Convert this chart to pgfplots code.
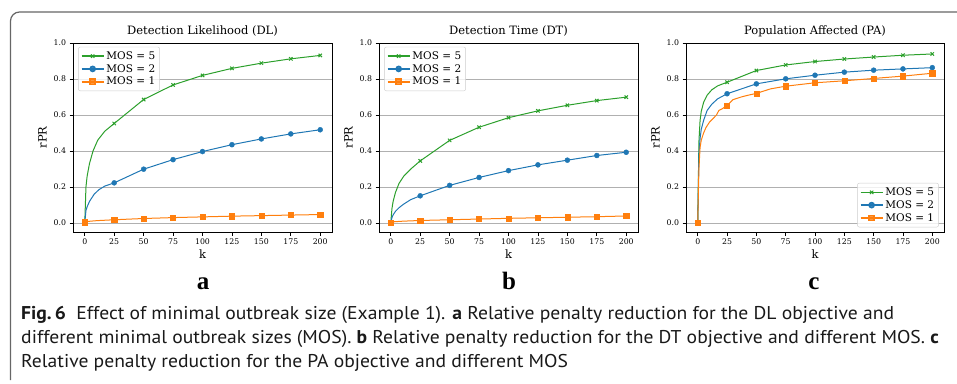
\documentclass[border=0pt]{standalone}
\usepackage{fontspec}
\setmainfont{DejaVu Serif}
\newfontfamily\capfont[FakeStretch=1.06]{PT Sans}
\newfontfamily\letterfont{Liberation Serif}
\usepackage{pgfplots}
\pgfplotsset{compat=1.18}
\definecolor{mgreen}{HTML}{2CA02C}
\definecolor{mblue}{HTML}{1F77B4}
\definecolor{morange}{HTML}{FF7F0E}
\definecolor{framegray}{HTML}{666666}
\pgfplotsset{
  panel/.style={
    scale only axis, height=189pt, anchor=south west,
    xmin=-10, xmax=210, ymin=-0.05, ymax=1.0,
    xtick={0,25,50,75,100,125,150,175,200},
    ytick={0,0.2,0.4,0.6,0.8,1.0},
    yticklabel style={/pgf/number format/.cd, fixed, fixed zerofill, precision=1},
    /pgf/number format/assume math mode=true,
    tick align=outside, tick pos=left, major tick length=3.5pt,
    ymajorgrids, grid style={color=black!31, line width=0.8pt},
    axis line style={line width=0.8pt},
    tick style={black, line width=0.8pt},
    ticklabel style={font=\fontsize{7.8}{9}\selectfont},
    xlabel={k}, ylabel={rPR},
    xlabel style={yshift=2pt},
    label style={font=\fontsize{11.5}{13}\selectfont},
    title style={font=\fontsize{11.5}{13}\selectfont, yshift=-3pt},
    legend cell align=left,
    legend style={font=\fontsize{10.5}{12}\selectfont, draw=black!20, fill=white, fill opacity=0.8, text opacity=1, rounded corners=2pt, inner sep=2.5pt, row sep=-0.5pt},
    legend image code/.code={\draw[mark repeat=2,mark phase=2,##1] plot coordinates {(0pt,0pt) (11pt,0pt) (22pt,0pt)};},
  },
  gl/.style={mgreen, line width=1pt, no marks, forget plot},
  gm/.style={mgreen, only marks, mark=x, mark size=2.4pt, mark options={line width=1pt}, forget plot},
  bl/.style={mblue, line width=1pt, no marks, forget plot},
  bm/.style={mblue, only marks, mark=*, mark size=2.5pt, forget plot},
  ol/.style={morange, line width=1pt, no marks, forget plot},
  om/.style={morange, only marks, mark=square*, mark size=2.6pt, forget plot},
}
\newcommand{\legentries}{%
  \addlegendimage{mgreen, line width=1.6pt, mark=x, mark size=2.4pt, mark options={line width=1pt}}
  \addlegendentry{MOS = 5}
  \addlegendimage{mblue, line width=1.6pt, mark=*, mark size=2.5pt}
  \addlegendentry{MOS = 2}
  \addlegendimage{morange, line width=1.6pt, mark=square*, mark size=2.6pt}
  \addlegendentry{MOS = 1}
}
\begin{document}
\begin{tikzpicture}
\path[use as bounding box] (0,0) rectangle (957pt,383pt);
\draw[framegray, line width=1.2pt, rounded corners=9pt] (10.5pt,3pt) -- (10.5pt,371pt) -- (960pt,371pt);

% ---- Panel a ----
\begin{axis}[panel, at={(73pt,151pt)}, width=259pt,
  title={Detection Likelihood (DL)},
  legend style={at={(0.02,0.98)}, anchor=north west}]
\addplot[gl] coordinates {(0,0) (1,0.2) (2,0.26) (4,0.33) (7,0.40) (11,0.46) (17,0.51) (25,0.553) (50,0.686) (75,0.767) (100,0.82) (125,0.859) (150,0.888) (175,0.912) (200,0.931)};
\addplot[gm] coordinates {(0,0) (25,0.553) (50,0.686) (75,0.767) (100,0.82) (125,0.859) (150,0.888) (175,0.912) (200,0.931)};
\addplot[bl] coordinates {(0,0) (1,0.07) (2,0.09) (4,0.12) (8,0.16) (12,0.185) (17,0.205) (25,0.223) (50,0.299) (75,0.352) (100,0.397) (125,0.435) (150,0.467) (175,0.495) (200,0.518)};
\addplot[bm] coordinates {(0,0) (25,0.223) (50,0.299) (75,0.352) (100,0.397) (125,0.435) (150,0.467) (175,0.495) (200,0.518)};
\addplot[ol] coordinates {(0,0.004) (3,0.009) (10,0.013) (25,0.018) (50,0.025) (75,0.030) (100,0.034) (125,0.038) (150,0.041) (175,0.044) (200,0.047)};
\addplot[om] coordinates {(0,0.004) (25,0.018) (50,0.025) (75,0.030) (100,0.034) (125,0.038) (150,0.041) (175,0.044) (200,0.047)};
\legentries
\end{axis}

% ---- Panel b ----
\begin{axis}[panel, at={(379pt,151pt)}, width=259pt,
  title={Detection Time (DT)},
  legend style={at={(0.02,0.98)}, anchor=north west}]
\addplot[gl] coordinates {(0,0) (1,0.08) (2,0.12) (4,0.17) (7,0.22) (11,0.26) (17,0.30) (25,0.345) (50,0.459) (75,0.532) (100,0.585) (125,0.623) (150,0.654) (175,0.68) (200,0.699)};
\addplot[gm] coordinates {(0,0) (25,0.345) (50,0.459) (75,0.532) (100,0.585) (125,0.623) (150,0.654) (175,0.68) (200,0.699)};
\addplot[bl] coordinates {(0,0) (1,0.03) (2,0.045) (4,0.065) (7,0.085) (11,0.105) (17,0.13) (25,0.151) (50,0.209) (75,0.253) (100,0.291) (125,0.323) (150,0.349) (175,0.375) (200,0.393)};
\addplot[bm] coordinates {(0,0) (25,0.151) (50,0.209) (75,0.253) (100,0.291) (125,0.323) (150,0.349) (175,0.375) (200,0.393)};
\addplot[ol] coordinates {(0,0.003) (3,0.007) (10,0.010) (25,0.014) (50,0.018) (75,0.022) (100,0.026) (125,0.029) (150,0.032) (175,0.035) (200,0.039)};
\addplot[om] coordinates {(0,0.003) (25,0.014) (50,0.018) (75,0.022) (100,0.026) (125,0.029) (150,0.032) (175,0.035) (200,0.039)};
\legentries
\end{axis}

% ---- Panel c ----
\begin{axis}[panel, at={(686pt,151pt)}, width=258pt,
  title={Population Affected (PA)},
  legend style={at={(0.98,0.025)}, anchor=south east}]
\addplot[gl] coordinates {(0,0) (1,0.45) (2,0.57) (3,0.62) (5,0.67) (8,0.71) (12,0.74) (17,0.762) (25,0.782) (50,0.847) (75,0.878) (100,0.897) (125,0.911) (150,0.922) (175,0.932) (200,0.939)};
\addplot[gm] coordinates {(0,0) (25,0.782) (50,0.847) (75,0.878) (100,0.897) (125,0.911) (150,0.922) (175,0.932) (200,0.939)};
\addplot[bl] coordinates {(0,0) (1,0.38) (2,0.47) (3,0.52) (5,0.57) (8,0.625) (12,0.66) (17,0.69) (25,0.718) (50,0.773) (75,0.801) (100,0.821) (125,0.838) (150,0.849) (175,0.856) (200,0.863)};
\addplot[bm] coordinates {(0,0) (25,0.718) (50,0.773) (75,0.801) (100,0.821) (125,0.838) (150,0.849) (175,0.856) (200,0.863)};
\addplot[ol] coordinates {(0,0.003) (1,0.3) (2,0.42) (3,0.46) (5,0.5) (7,0.53) (10,0.56) (13,0.58) (16,0.6) (18,0.625) (21,0.635) (25,0.653) (30,0.685) (37,0.70) (43,0.71) (50,0.72) (62,0.745) (75,0.76) (100,0.779) (125,0.79) (150,0.803) (175,0.816) (200,0.832)};
\addplot[om] coordinates {(0,0.003) (25,0.653) (50,0.72) (75,0.76) (100,0.779) (125,0.79) (150,0.803) (175,0.816) (200,0.832)};
\legentries
\end{axis}

% subfigure letters
\node[anchor=base, font=\letterfont\bfseries\fontsize{25}{28}\selectfont] at (203pt,94pt) {a};
\node[anchor=base, font=\letterfont\bfseries\fontsize{25}{28}\selectfont] at (509pt,94pt) {b};
\node[anchor=base, font=\letterfont\bfseries\fontsize{25}{28}\selectfont] at (814pt,94pt) {c};

% caption
\begin{scope}[every node/.style={anchor=base west, inner sep=0pt, font=\capfont\fontsize{18.5}{22}\selectfont, text=black!90}]
\node at (21pt,64pt) {\textbf{Fig.\,6}\ \ Effect of minimal outbreak size (Example 1). \textbf{a} Relative penalty reduction for the DL objective and};
\node at (21pt,40pt) {different minimal outbreak sizes (MOS). \textbf{b} Relative penalty reduction for the DT objective and different MOS. \textbf{c}};
\node at (21pt,16pt) {Relative penalty reduction for the PA objective and different MOS};
\end{scope}
\end{tikzpicture}
\end{document}
